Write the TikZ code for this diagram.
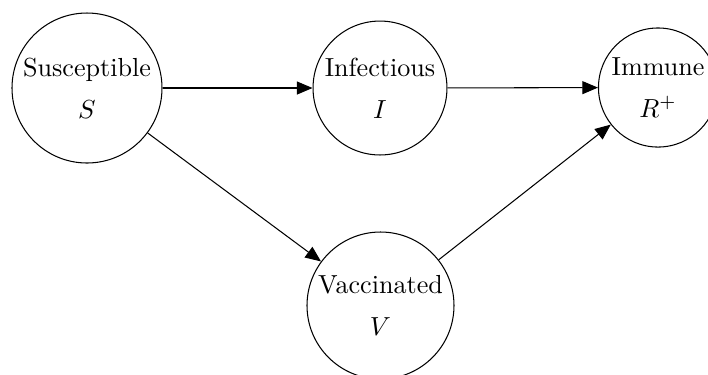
\documentclass[tikz,border=0pt]{standalone}
\usetikzlibrary{arrows.meta}
\begin{document}
\begin{tikzpicture}[x=0.383pt,y=-0.383pt,
  state/.style={circle,draw,line width=0.4pt,inner sep=0pt,align=center,font=\normalsize},
  flow/.style={draw,line width=0.4pt,-{Triangle[length=6pt,width=5pt]}}]
  \useasboundingbox (0,0) rectangle (708,374);
  % compartments
  \node[state,minimum size=57.45pt] (S) at (87,88)    {Susceptible\\[4pt]$S$};
  \node[state,minimum size=51.3pt]  (I) at (380,88)   {Infectious\\[4pt]$I$};
  \node[state,minimum size=45.6pt]  (R) at (658,87.5) {Immune\\[4pt]$R^{+}$};
  \node[state,minimum size=56.3pt]  (V) at (380.5,305.5) {Vaccinated\\[4pt]$V$};
  % transitions
  \draw[flow] (S) -- (I);
  \draw[flow] (I) -- (R);
  \draw[flow] (S) -- (V);
  \draw[flow] (V) -- (R);
\end{tikzpicture}
\end{document}
